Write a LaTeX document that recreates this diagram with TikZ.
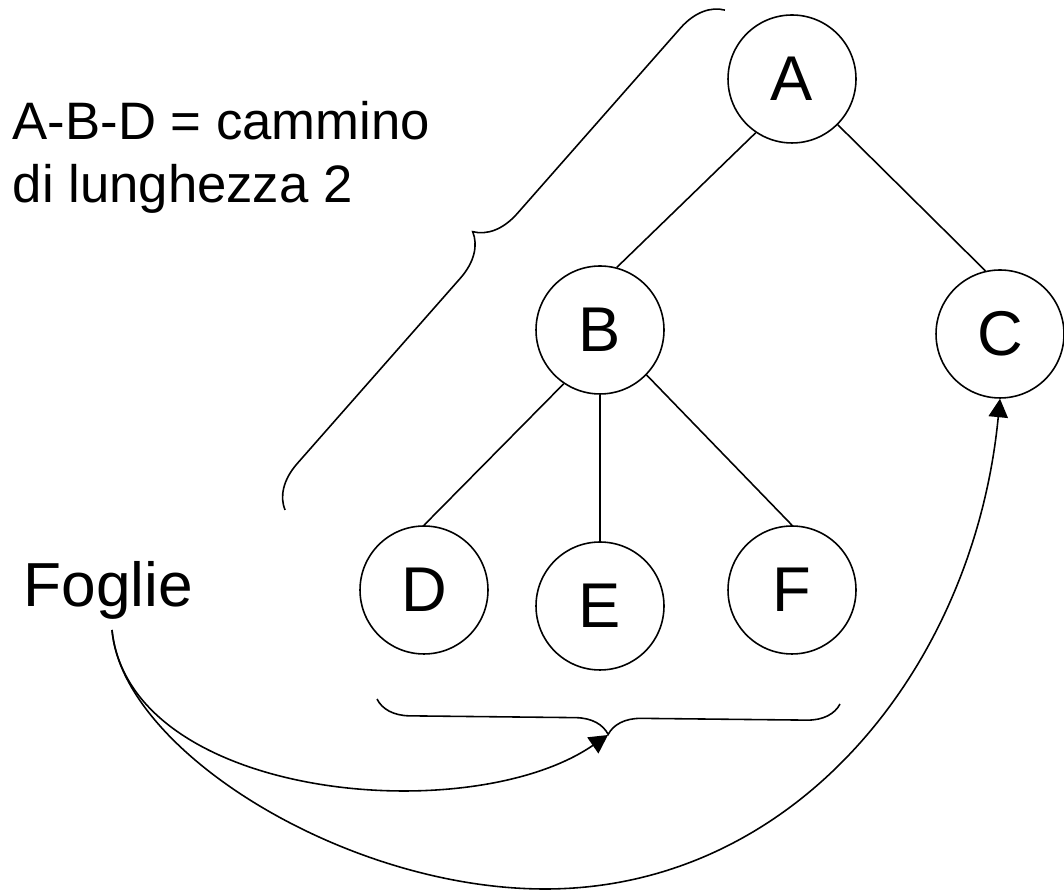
\documentclass[tikz,border=0pt]{standalone}
\usepackage{fontspec}
\setmainfont{Liberation Sans}
\usetikzlibrary{arrows.meta,decorations.pathreplacing}

\begin{document}
\begin{tikzpicture}[x=0.02cm,y=0.02cm,line width=0.9pt,
   vertex/.style={circle,draw,minimum size=2.56cm,inner sep=0pt,font=\fontsize{36}{40}\selectfont},
   label/.style={anchor=base west,inner sep=0pt},
   curly/.style={decorate,decoration={brace,amplitude=#1}},
   pointer/.style={-{Triangle[length=10.5pt,width=11pt]}}]
   \useasboundingbox (0,0) rectangle (1064,895);
   % the tree
   \node[vertex] (A) at (792,816) {A};
   \node[vertex] (B) at (600,565) {B};
   \node[vertex] (C) at (1000,561) {C};
   \node[vertex] (D) at (424,305) {D};
   \node[vertex] (E) at (600,289) {E};
   \node[vertex] (F) at (792,305) {F};
   \draw (A.236) -- (B.75);
   \draw (A.315) -- (C.103);
   \draw (B.236) -- (D.90);
   \draw (B.270) -- (E.90);
   \draw (B.316) -- (F.90);
   % texts
   \node[label,font=\fontsize{30}{29}\selectfont] (path1) at (12,755) {A-B-D = cammino};
   \node[label,font=\fontsize{30}{29}\selectfont] (path2) at (12,692) {di lunghezza 2};
   \node[label,font=\fontsize{35.4}{40}\selectfont] (foglie) at (23,288) {Foglie};
   % braces
   \draw[curly=0.86cm] (285,385) -- (725,885);
   \draw[curly=0.66cm] (840,191) -- (377,196);
   \coordinate (leaves) at (608,160);
   \coordinate (fo) at (112,265);
   \coordinate (low) at (545,6);
   \draw[pointer] (fo) .. controls (130,95) and (470,65) .. (leaves);
   \draw[pointer] (fo) .. controls (122,145) and (345,6) .. (low)
      .. controls (795,6) and (974,227) .. (C.south);
\end{tikzpicture}
\end{document}
